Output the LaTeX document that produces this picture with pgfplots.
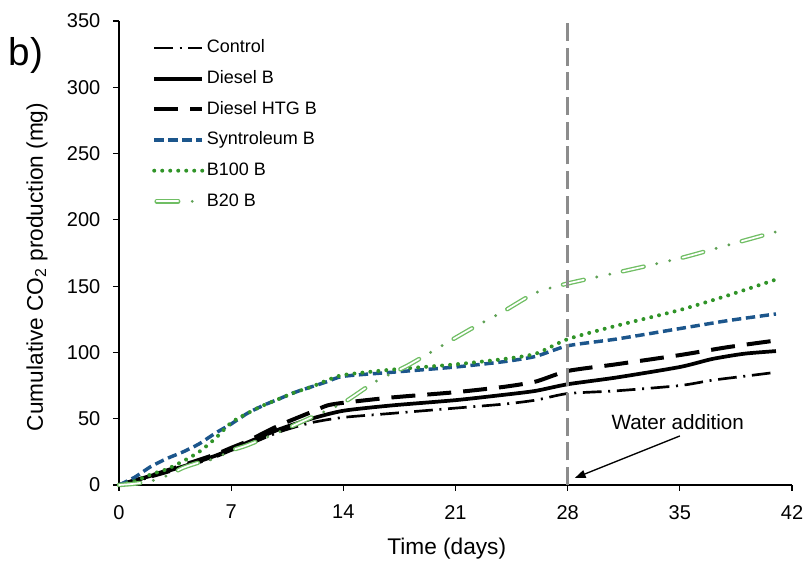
\documentclass[border=0pt]{standalone}
\usepackage{pgfplots}
\pgfplotsset{compat=1.18}
\usepackage{fontspec}
\setmainfont{Liberation Sans}
\usetikzlibrary{arrows.meta}

\definecolor{syn}{RGB}{28,86,140}
\definecolor{bhund}{RGB}{48,148,40}
\definecolor{btwenty}{RGB}{112,190,100}
\definecolor{wgray}{RGB}{140,140,140}

\begin{document}
\begin{tikzpicture}
\begin{axis}[
    name=ax,
    scale only axis,
    width=504.75pt, height=348pt,
    xmin=0, xmax=42, ymin=0, ymax=350,
    xtick={0,7,...,42},
    ytick={0,50,...,350},
    axis x line*=bottom, axis y line*=left,
    axis line style={line width=1pt, -},
    tick align=outside,
    major tick length=4.5pt,
    tick style={black, line width=0.8pt},
    /pgf/number format/assume math mode=true,
    ticklabel style={font=\fontsize{15}{18}\selectfont},
    xticklabel style={yshift=-7pt},
    yticklabel style={xshift=-6pt},
    xlabel={Time (days)},
    ylabel={Cumulative CO\textsubscript{2} production (mg)},
    label style={font=\fontsize{17}{20}\selectfont},
    xlabel style={at={(axis description cs:0.487,-0.138)}, anchor=center},
    ylabel style={at={(axis description cs:-0.122,0.47)}, anchor=center},
    legend style={at={(axis description cs:0.049,0.961)}, anchor=north west,
        draw=none, fill=none, inner sep=0pt, row sep=10pt, column sep=2pt,
        font=\fontsize{13.5}{16}\selectfont,
        nodes={inner sep=0pt, text height=10pt, text depth=3pt}},
    legend cell align=left,
    legend image code/.code={\draw[#1] (0pt,0pt) -- (36pt,0pt);},
    clip=false,
]
% Control
\addplot[black, line width=2pt, dash pattern=on 14pt off 5pt on 1.5pt off 5pt, smooth, tension=0.4] coordinates {
    (0,0) (2,6) (4,13) (6,21) (7,26) (8,30) (10,40) (12,47) (14,51) (17,54)
    (21,58) (24,61) (26,64) (28,69) (31,71) (35,75) (37,79) (39,82) (41,85)
};
% Diesel B
\addplot[black, line width=2.8pt, smooth, tension=0.4] coordinates {
    (0,0) (2,7) (4,14) (6,22) (7,27) (8,32) (10,42) (12,50) (14,56) (17,60)
    (21,64) (24,68) (26,71) (28,76) (31,81) (35,89) (37,95) (39,99) (41,101)
};
% Diesel HTG B
\addplot[black, line width=3pt, dash pattern=on 18pt off 9pt, smooth, tension=0.4] coordinates {
    (0,0) (2,7) (4,15) (6,23) (7,28) (8,33) (10,45) (12,55) (13,60) (14,62)
    (17,66) (21,70) (24,74) (26,78) (28,86) (31,91) (35,98) (38,104) (41,109)
};
% Syntroleum B
\addplot[syn, line width=2.6pt, dash pattern=on 7pt off 3.5pt, smooth, tension=0.4] coordinates {
    (0,0) (1,6) (2,14) (3,20) (4,25) (5,31) (6,39) (7,46) (8,54) (9,60) (10,65)
    (11,70) (12,74) (13,78) (14,82) (17,85) (21,89) (24,93) (26,97) (28,105)
    (31,110) (35,118) (38,124) (41,129)
};
% B100 B
\addplot[bhund, line width=3pt, line cap=round, dash pattern=on 0pt off 6pt, smooth, tension=0.4] coordinates {
    (0,0) (1,3) (2,8) (3,12) (4,18) (5,25) (6,35) (7,47) (8,54) (9,60) (10,65)
    (11,70) (12,74) (13,79) (14,83) (17,87) (21,91) (24,95) (26,99) (28,110)
    (31,120) (35,132) (38,143) (41,155)
};
% B20 B: hollow long dashes ...
\addplot[btwenty, line width=1pt, double=white, double distance=1.3pt, line cap=round,
    dash pattern=on 16pt off 30pt, smooth, tension=0.4,
    legend image code/.code={
        \draw[btwenty, line width=1pt, double=white, double distance=1.3pt, line cap=round, solid] (1.8pt,0pt) -- (18pt,0pt);
        \path[fill=btwenty!85!black, draw=none] (28.5pt,0pt) circle[radius=1.2pt];
        \path[draw=none] (36pt,0pt) -- (36pt,0pt);}] coordinates {
    (0,0) (1,1) (2,3) (3,7) (4,13) (5,17) (6,20) (7,26) (8,30) (10,40) (12,51)
    (14,62) (16,78) (18,90) (20,104) (22,118) (24,131) (26,145) (28,152)
    (31,160) (35,171) (38,181) (41,191)
};
% ... and its solid dots
\addplot[forget plot, btwenty!85!black, line width=2.4pt, line cap=round,
    dash pattern=on 0pt off 10pt on 0pt off 36pt, dash phase=20pt, smooth, tension=0.4] coordinates {
    (0,0) (1,1) (2,3) (3,7) (4,13) (5,17) (6,20) (7,26) (8,30) (10,40) (12,51)
    (14,62) (16,78) (18,90) (20,104) (22,118) (24,131) (26,145) (28,152)
    (31,160) (35,171) (38,181) (41,191)
};
\legend{Control, Diesel B, Diesel HTG B, Syntroleum B, B100 B, B20 B}

% water addition marker
\draw[wgray, line width=2pt, dash pattern=on 13.5pt off 5pt] (axis cs:28,0) -- (axis cs:28,350);
\node[font=\fontsize{15.5}{18}\selectfont, anchor=center] at (axis cs:34.87,47.5) {Water addition};
\draw[black, line width=1pt, -{Triangle[length=8pt,width=6pt]}] (axis cs:35.0,37) -- (axis cs:28.45,5.3);

\node[font=\fontsize{29}{30}\selectfont, anchor=center] at (axis description cs:-0.138,0.925) {b)};
\end{axis}
\pgfresetboundingbox
\path[use as bounding box] ([xshift=-89.25pt,yshift=-58.5pt]ax.south west) rectangle ([xshift=10.5pt,yshift=15.75pt]ax.north east);
\end{tikzpicture}
\end{document}
